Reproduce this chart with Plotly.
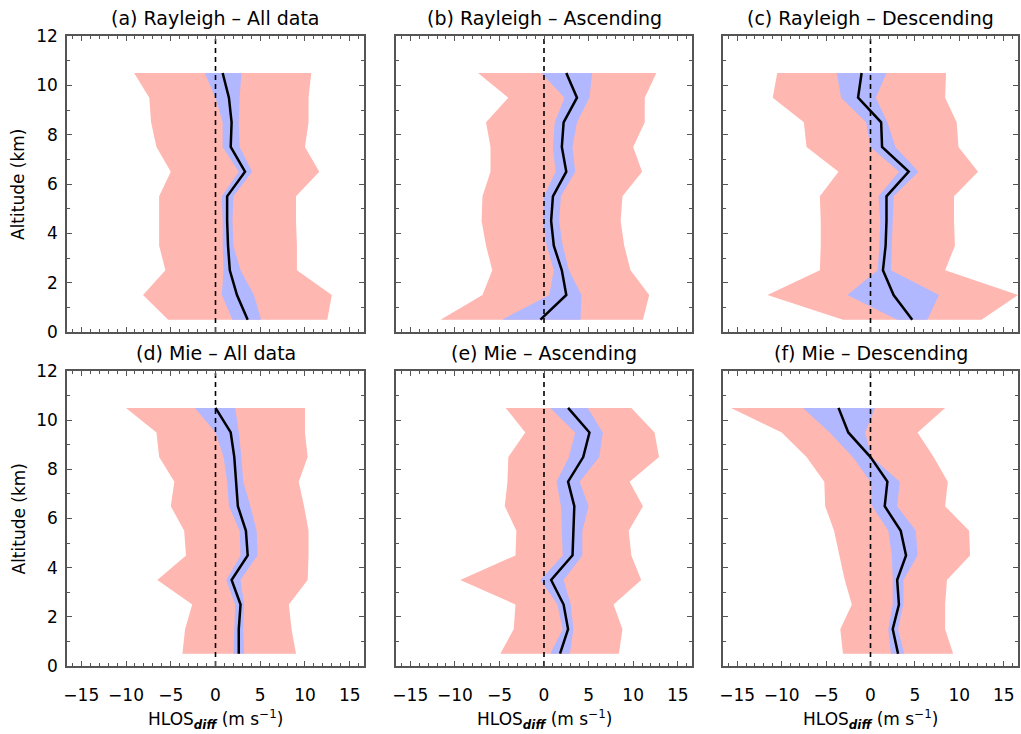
import plotly.graph_objects as go

# Altitude levels (km)
altitude = [0.5, 1.5, 2.5, 3.5, 4.5, 5.5, 6.5, 7.5, 8.5, 9.5, 10.5]

# (a) Rayleigh - All data
ray_all_pink_lo = [-5.3, -8.1, -5.6, -6.3, -6.3, -6.3, -5.0, -6.6, -7.2, -7.4, -9.1]
ray_all_pink_hi = [12.5, 13.0, 9.1, 9.1, 9.0, 9.0, 11.6, 10.0, 10.4, 10.4, 10.7]
ray_all_blue_lo = [1.9, 0.7, 0.9, 0.8, 0.8, 0.7, 2.6, 0.8, 0.8, 0.0, -1.2]
ray_all_blue_hi = [5.1, 4.3, 2.8, 2.0, 1.9, 2.0, 4.1, 2.7, 2.6, 2.7, 2.9]
ray_all_mean = [3.6, 2.4, 1.6, 1.4, 1.3, 1.3, 3.3, 1.7, 1.8, 1.5, 0.8]

# (b) Rayleigh - Ascending
ray_asc_pink_lo = [-11.6, -6.9, -5.8, -6.5, -7.0, -6.9, -6.0, -6.0, -6.5, -4.0, -7.4]
ray_asc_pink_hi = [11.1, 11.8, 9.7, 9.0, 8.6, 8.8, 11.0, 10.0, 11.3, 11.3, 12.6]
ray_asc_blue_lo = [-4.7, 0.6, 1.1, 0.3, -0.1, 0.0, 1.3, 1.0, 1.2, 2.3, -0.3]
ray_asc_blue_hi = [4.1, 4.2, 2.8, 2.1, 1.7, 1.9, 3.5, 3.2, 3.7, 5.1, 5.4]
ray_asc_mean = [-0.4, 2.5, 2.0, 1.1, 0.8, 1.0, 2.5, 2.0, 2.2, 3.7, 2.5]

# (c) Rayleigh - Descending
ray_des_pink_lo = [-3.1, -11.6, -5.7, -5.6, -5.6, -5.7, -3.6, -7.2, -7.5, -11.0, -10.5]
ray_des_pink_hi = [12.5, 16.6, 8.4, 9.5, 9.4, 9.4, 12.1, 9.9, 9.7, 8.4, 8.5]
ray_des_blue_lo = [3.0, -2.6, 0.8, 1.0, 1.1, 0.9, 3.2, 0.0, -0.5, -3.3, -3.8]
ray_des_blue_hi = [6.4, 7.7, 2.3, 2.4, 2.5, 2.6, 5.4, 2.8, 1.9, 0.6, 1.8]
ray_des_mean = [4.7, 2.6, 1.4, 1.7, 1.8, 1.8, 4.3, 1.3, 1.2, -1.4, -1.0]

# (d) Mie - All data
mie_all_pink_lo = [-3.7, -3.4, -2.6, -6.5, -3.3, -3.5, -5.0, -4.6, -6.3, -6.6, -10.0]
mie_all_pink_hi = [9.0, 8.5, 8.2, 10.3, 10.4, 10.4, 9.9, 9.3, 10.3, 10.0, 10.0]
mie_all_blue_lo = [2.0, 2.1, 2.2, 1.2, 2.8, 2.7, 1.5, 1.3, 0.9, 0.0, -2.3]
mie_all_blue_hi = [3.2, 3.1, 3.2, 2.8, 4.7, 4.6, 3.9, 3.1, 2.9, 2.6, 2.2]
mie_all_mean = [2.6, 2.6, 2.8, 1.8, 3.6, 3.4, 2.5, 2.3, 2.1, 1.7, 0.0]

# (e) Mie - Ascending
mie_asc_pink_lo = [-4.9, -3.4, -3.2, -9.4, -3.2, -3.1, -4.4, -4.1, -4.0, -2.1, -4.3]
mie_asc_pink_hi = [8.4, 8.8, 7.8, 10.9, 9.8, 9.5, 11.1, 9.6, 12.9, 12.4, 9.8]
mie_asc_blue_lo = [0.7, 2.1, 1.5, -0.4, 2.1, 2.0, 1.9, 1.4, 2.8, 3.5, 0.7]
mie_asc_blue_hi = [2.9, 3.3, 3.0, 2.2, 4.3, 4.3, 5.0, 4.0, 6.2, 6.6, 4.9]
mie_asc_mean = [1.8, 2.7, 2.2, 0.8, 3.2, 3.3, 3.4, 2.7, 4.4, 5.1, 2.7]

# (f) Mie - Descending
mie_des_pink_lo = [-3.1, -3.4, -2.1, -2.9, -3.5, -4.1, -5.1, -5.2, -7.2, -10.0, -15.7]
mie_des_pink_hi = [9.3, 8.4, 8.4, 8.6, 11.2, 11.1, 8.4, 8.7, 7.1, 5.3, 8.4]
mie_des_blue_lo = [2.3, 2.0, 2.5, 2.5, 2.4, 2.0, 0.2, 0.0, -2.0, -4.6, -7.6]
mie_des_blue_hi = [3.8, 3.1, 3.7, 3.7, 5.3, 5.1, 3.0, 3.3, 0.1, -0.6, 0.5]
mie_des_mean = [3.1, 2.5, 3.2, 3.0, 4.0, 3.4, 1.6, 1.9, 0.0, -2.5, -3.6]

panel_titles = ["(a) Rayleigh \u2013 All data", "(b) Rayleigh \u2013 Ascending",
                "(c) Rayleigh \u2013 Descending", "(d) Mie \u2013 All data",
                "(e) Mie \u2013 Ascending", "(f) Mie \u2013 Descending"]

x_ticks = [-15, -10, -5, 0, 5, 10, 15]
y_ticks = [0, 2, 4, 6, 8, 10, 12]

panels = [
    (ray_all_pink_lo, ray_all_pink_hi, ray_all_blue_lo, ray_all_blue_hi, ray_all_mean),
    (ray_asc_pink_lo, ray_asc_pink_hi, ray_asc_blue_lo, ray_asc_blue_hi, ray_asc_mean),
    (ray_des_pink_lo, ray_des_pink_hi, ray_des_blue_lo, ray_des_blue_hi, ray_des_mean),
    (mie_all_pink_lo, mie_all_pink_hi, mie_all_blue_lo, mie_all_blue_hi, mie_all_mean),
    (mie_asc_pink_lo, mie_asc_pink_hi, mie_asc_blue_lo, mie_asc_blue_hi, mie_asc_mean),
    (mie_des_pink_lo, mie_des_pink_hi, mie_des_blue_lo, mie_des_blue_hi, mie_des_mean),
]

W, H = 1021, 734
col_px = [(67, 364), (396, 692), (723, 1018)]
row_px = [(36, 332), (371, 666)]

PINK = "#FFB7B1"
BLUE = "#B1B8FF"
FONT = "DejaVu Sans, Liberation Sans, Arial, sans-serif"

fig = go.Figure()
layout = dict(width=W, height=H, margin=dict(l=0, r=0, t=0, b=0, autoexpand=False),
              plot_bgcolor="white", paper_bgcolor="white", showlegend=False,
              font=dict(family=FONT, color="black", size=16))
annotations = []

for i, (plo, phi, blo, bhi, mean) in enumerate(panels):
    r, c = divmod(i, 3)
    n = i + 1
    xa = "x" if n == 1 else f"x{n}"
    ya = "y" if n == 1 else f"y{n}"
    # pink band
    fig.add_trace(go.Scatter(x=plo + phi[::-1], y=altitude + altitude[::-1],
                             fill="toself", fillcolor=PINK, mode="none",
                             xaxis=xa, yaxis=ya, hoverinfo="skip"))
    # blue band
    fig.add_trace(go.Scatter(x=blo + bhi[::-1], y=altitude + altitude[::-1],
                             fill="toself", fillcolor=BLUE, mode="none",
                             xaxis=xa, yaxis=ya, hoverinfo="skip"))
    # zero line
    fig.add_trace(go.Scatter(x=[0, 0], y=[0, 12], mode="lines",
                             line=dict(color="black", width=1.6, dash="5px,4px"),
                             xaxis=xa, yaxis=ya, hoverinfo="skip"))
    # mean
    fig.add_trace(go.Scatter(x=mean, y=altitude, mode="lines",
                             line=dict(color="black", width=2.5),
                             xaxis=xa, yaxis=ya))

    x0, x1 = col_px[c]
    y0, y1 = row_px[r]
    xkey = "xaxis" if n == 1 else f"xaxis{n}"
    ykey = "yaxis" if n == 1 else f"yaxis{n}"
    layout[xkey] = dict(domain=[x0 / W, x1 / W], anchor=ya, range=[-16.6, 16.6],
                        tickvals=x_ticks, showticklabels=(r == 1), automargin=False,
                        ticks="inside", ticklen=5, tickcolor="#555",
                        ticklabelstandoff=13,
                        minor=dict(dtick=1, tick0=0, ticks="inside", ticklen=3, tickcolor="#555"),
                        showline=True, linecolor="#555", linewidth=1.5, mirror="ticks",
                        showgrid=False, zeroline=False,
                        tickfont=dict(size=17, family=FONT))
    layout[ykey] = dict(domain=[1 - y1 / H, 1 - y0 / H], anchor=xa, range=[0, 12],
                        tickvals=y_ticks, showticklabels=(c == 0), automargin=False,
                        ticks="inside", ticklen=5, tickcolor="#555",
                        ticklabelstandoff=4,
                        minor=dict(dtick=1, tick0=0, ticks="inside", ticklen=3, tickcolor="#555"),
                        showline=True, linecolor="#555", linewidth=1.5, mirror="ticks",
                        showgrid=False, zeroline=False,
                        tickfont=dict(size=17, family=FONT))
    # panel title
    annotations.append(dict(text=panel_titles[i], x=(x0 + x1) / 2 / W,
                            y=1 - (y0 - 18) / H, xref="paper", yref="paper",
                            showarrow=False, xanchor="center", yanchor="middle",
                            font=dict(size=19, family=FONT)))
    if r == 1:
        annotations.append(dict(text="HLOS<sub><b><i>diff</i></b></sub> (m s<sup>\u22121</sup>)",
                                x=(x0 + x1) / 2 / W, y=1 - 719 / H, xref="paper", yref="paper",
                                showarrow=False, xanchor="center", yanchor="middle",
                                font=dict(size=17, family=FONT)))
    if c == 0:
        annotations.append(dict(text="Altitude (km)", x=18 / W, y=1 - (y0 + y1) / 2 / H,
                                xref="paper", yref="paper", textangle=-90,
                                showarrow=False, xanchor="center", yanchor="middle",
                                font=dict(size=17, family=FONT)))

layout["annotations"] = annotations
fig.update_layout(**layout)
fig.write_html("out.html", config={"displayModeBar": False},
               post_script="document.body.style.margin='0';document.body.style.overflow='hidden';")
